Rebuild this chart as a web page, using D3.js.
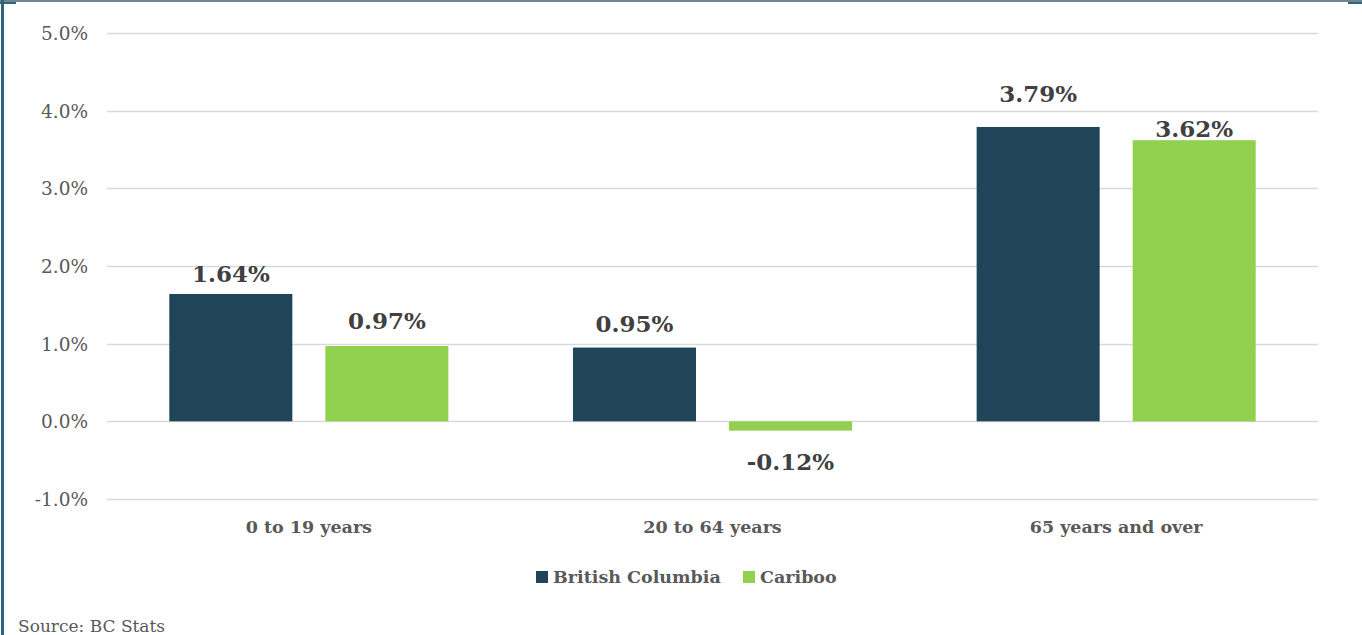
<!DOCTYPE html>
<html>
<head>
<meta charset="utf-8">
<script src="https://cdn.jsdelivr.net/npm/d3@7"></script>
<style>
  html, body { margin: 0; padding: 0; background: #fff; }
  svg { display: block; }
</style>
</head>
<body>
<svg id="chart" width="1362" height="635"></svg>
<script>
// Population growth by age group
const categories = ["0 to 19 years", "20 to 64 years", "65 years and over"];
const seriesNames = ["British Columbia", "Cariboo"];
const bcValues = [1.64, 0.95, 3.79];
const caribooValues = [0.97, -0.12, 3.62];
const yTicks = [-1, 0, 1, 2, 3, 4, 5];
const seriesColors = ["#204559", "#92d050"];
const sourceText = "Source: BC Stats";

// hand-placed label distances (px) from the end of each bar
const bcLabelGap = [12, 16, 25];
const caribooLabelGap = [17, 39, 3];

const FONT = "'DejaVu Serif', 'Liberation Serif', serif";
const locale = d3.formatLocale({ decimal: ".", thousands: ",", grouping: [3], currency: ["", ""], minus: "-" });
const fmt1 = locale.format(".1f");
const fmt2 = locale.format(".2f");

const svg = d3.select("#chart");
const W = 1362, H = 635;

// frame lines
svg.append("rect").attr("x", 0).attr("y", 0).attr("width", W).attr("height", 2).attr("fill", "#6e8590");
svg.append("rect").attr("x", 1).attr("y", 0).attr("width", 3).attr("height", H).attr("fill", "#2f6480");
svg.append("rect").attr("x", 1348).attr("y", 2).attr("width", 14).attr("height", 2).attr("fill", "#2f6480");
svg.append("rect").attr("x", 0).attr("y", 2).attr("width", 16).attr("height", 2).attr("fill", "#2f6480");

const plot = { left: 107, right: 1318, top: 33, bottom: 499 };

const y = d3.scaleLinear().domain([-1, 5]).range([plot.bottom, plot.top]);
const x0 = d3.scaleBand().domain(categories).range([plot.left, plot.right]).padding(0);
const inner = 62.3;
const x1 = d3.scaleBand().domain(seriesNames)
  .range([inner, x0.bandwidth() - inner]).paddingInner(0.2115).paddingOuter(0);

// gridlines
svg.append("g").selectAll("line").data(yTicks).join("line")
  .attr("x1", plot.left).attr("x2", plot.right)
  .attr("y1", d => Math.round(y(d)) + 0.5).attr("y2", d => Math.round(y(d)) + 0.5)
  .attr("stroke", "#d9d9d9").attr("stroke-width", 1.5);

// y axis labels
const yAxis = d3.axisLeft(y).tickValues(yTicks).tickSize(0).tickPadding(0)
  .tickFormat(d => fmt1(d) + "%");
const gy = svg.append("g").attr("transform", `translate(${plot.left - 19},0)`).call(yAxis);
gy.select(".domain").remove();
gy.selectAll("text").attr("font-family", FONT).attr("font-size", 18.5).attr("fill", "#595959")
  .attr("dy", "0.35em");

const rows = categories.map((c, i) => ({
  cat: c,
  vals: [
    { s: seriesNames[0], v: bcValues[i], gap: bcLabelGap[i], color: seriesColors[0] },
    { s: seriesNames[1], v: caribooValues[i], gap: caribooLabelGap[i], color: seriesColors[1] }
  ]
}));

const groups = svg.append("g").selectAll("g").data(rows).join("g")
  .attr("transform", d => `translate(${x0(d.cat)},0)`);

groups.selectAll("rect").data(d => d.vals).join("rect")
  .attr("x", d => x1(d.s))
  .attr("width", x1.bandwidth())
  .attr("y", d => y(Math.max(0, d.v)))
  .attr("height", d => Math.abs(y(d.v) - y(0)))
  .attr("fill", d => d.color);

groups.selectAll("text").data(d => d.vals).join("text")
  .attr("x", d => x1(d.s) + x1.bandwidth() / 2)
  .attr("y", d => d.v >= 0 ? y(d.v) - d.gap : y(d.v) + d.gap)
  .attr("text-anchor", "middle")
  .attr("font-family", FONT).attr("font-weight", "bold").attr("font-size", 23)
  .attr("fill", "#404040")
  .text(d => fmt2(d.v) + "%");

// category labels
svg.append("g").selectAll("text").data(categories).join("text")
  .attr("x", d => x0(d) + x0.bandwidth() / 2)
  .attr("y", 533)
  .attr("text-anchor", "middle")
  .attr("font-family", FONT).attr("font-weight", "bold").attr("font-size", 17.5)
  .attr("fill", "#595959")
  .text(d => d);

// legend
const legendItems = [
  { name: seriesNames[0], color: seriesColors[0], x: 536 },
  { name: seriesNames[1], color: seriesColors[1], x: 743 }
];
const lg = svg.append("g").selectAll("g").data(legendItems).join("g")
  .attr("transform", d => `translate(${d.x},571)`);
lg.append("rect").attr("width", 12).attr("height", 12).attr("fill", d => d.color);
lg.append("text").attr("x", 17).attr("y", 12)
  .attr("font-family", FONT).attr("font-weight", "bold").attr("font-size", 17.5)
  .attr("fill", "#595959").text(d => d.name);

// source note
svg.append("text").attr("x", 18).attr("y", 632)
  .attr("font-family", FONT).attr("font-size", 17).attr("fill", "#595959")
  .text(sourceText);
</script>
</body>
</html>
